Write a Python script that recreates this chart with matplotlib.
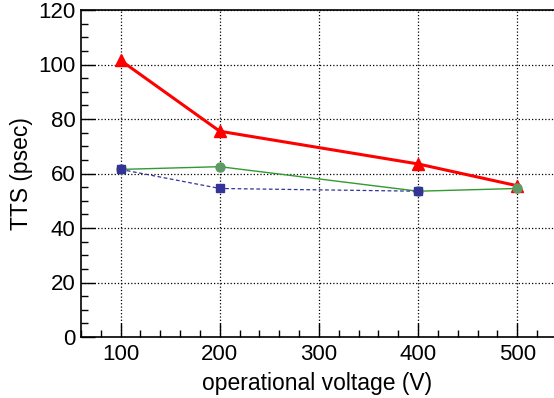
import matplotlib
matplotlib.use("Agg")
import matplotlib.pyplot as plt
from matplotlib.ticker import MultipleLocator

plt.rcParams['font.family'] = ['Liberation Sans', 'DejaVu Sans']

volt_red = [100, 200, 400, 500]
tts_red = [101.5, 75.5, 63.5, 55.5]
volt_green = [100, 200, 400, 500]
tts_green = [61.5, 62.5, 53.5, 54.5]
volt_blue = [100, 200, 400]
tts_blue = [61.5, 54.5, 53.5]

fig = plt.figure(figsize=(5.54, 3.98), dpi=100)
ax = fig.add_axes([81 / 554, 1 - 337 / 398, 1 - 81 / 554, 327 / 398])

ax.plot(volt_red, tts_red, color='#ff0000', lw=2.2, marker='^', ms=9,
        markeredgecolor='#ff0000', zorder=3)
ax.plot(volt_green, tts_green, color='#339933', lw=1.0, marker='o', ms=6.5,
        markerfacecolor='#5f9966', markeredgecolor='#5f9966', zorder=4)
ax.plot(volt_blue, tts_blue, color='#333399', lw=0.9, ls=(0, (3, 2)), marker='s', ms=6,
        markerfacecolor='#333399', markeredgecolor='#333399', zorder=5)

ax.set_xlim(60, 537)
ax.set_ylim(0, 120)
ax.xaxis.set_major_locator(MultipleLocator(100))
ax.xaxis.set_minor_locator(MultipleLocator(20))
ax.yaxis.set_major_locator(MultipleLocator(20))
ax.yaxis.set_minor_locator(MultipleLocator(5))
ax.tick_params(which='both', direction='in', top=False, right=False, labelsize=16)
ax.tick_params(axis='x', pad=5)
ax.tick_params(axis='y', pad=4)
ax.tick_params(which='major', length=10, width=1)
ax.tick_params(which='minor', length=5, width=1)
ax.grid(True, which='major', ls=':', color='black', lw=0.9)
ax.spines['right'].set_visible(False)
for s in ['left', 'bottom', 'top']:
    ax.spines[s].set_linewidth(1.2)

ax.set_xlabel('operational voltage (V)', fontsize=16.5, labelpad=5)
ax.set_ylabel('TTS (psec)', fontsize=16.5, labelpad=4)

fig.savefig('out.png', dpi=100)
